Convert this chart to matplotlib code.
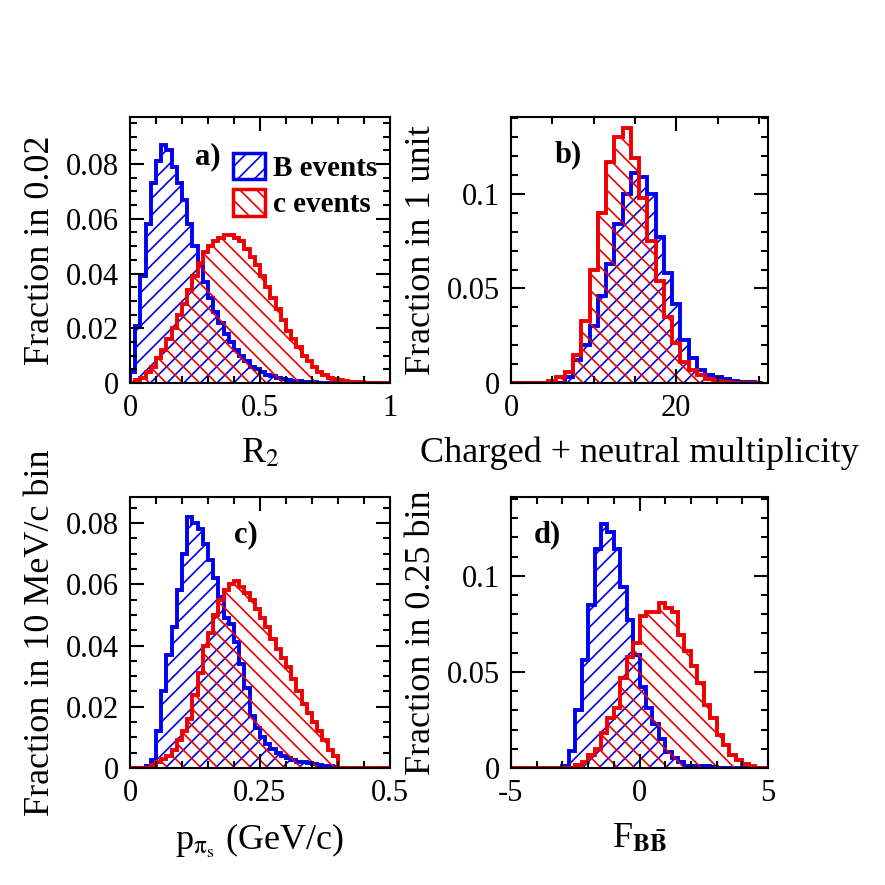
import numpy as np
import matplotlib
matplotlib.use("Agg")
import matplotlib.pyplot as plt
from matplotlib.patches import Patch
from matplotlib.ticker import MultipleLocator, FuncFormatter

plt.rcParams['font.family'] = ['Liberation Serif', 'DejaVu Serif']
plt.rcParams['mathtext.fontset'] = 'stix'
plt.rcParams['hatch.linewidth'] = 1.2

# Panel a: R2, bins of 0.02 from 0 to 1
r2_B = [0.004, 0.021, 0.039, 0.058, 0.073, 0.081, 0.087, 0.085, 0.079, 0.073,
        0.067, 0.058, 0.050, 0.043, 0.037, 0.031, 0.026, 0.022, 0.018, 0.015,
        0.012, 0.010, 0.008, 0.006, 0.005, 0.004, 0.003, 0.0025, 0.002, 0.0015,
        0.001, 0.0008, 0.0006, 0.0005, 0.0004, 0.0003] + [0.0] * 14
r2_c = [0.0, 0.001, 0.002, 0.004, 0.006, 0.009, 0.012, 0.016, 0.020, 0.025,
        0.029, 0.034, 0.039, 0.044, 0.048, 0.050, 0.052, 0.053, 0.054, 0.054,
        0.053, 0.052, 0.049, 0.046, 0.043, 0.039, 0.035, 0.031, 0.027, 0.023,
        0.019, 0.016, 0.013, 0.010, 0.008, 0.006, 0.004, 0.003, 0.002, 0.0015,
        0.001, 0.0007, 0.0005, 0.0003, 0.0002, 0.0, 0.0, 0.0, 0.0, 0.0]

# Panel b: multiplicity, unit bins centred on integers 0..30
mult_B = [0, 0, 0, 0, 0, 0, 0, 0.003, 0.012, 0.020, 0.030, 0.046, 0.063, 0.084,
          0.100, 0.111, 0.109, 0.100, 0.077, 0.058, 0.042, 0.023, 0.013, 0.007,
          0.004, 0.003, 0.002, 0.001, 0.0005, 0.0003, 0.0]
mult_c = [0, 0, 0, 0, 0, 0.001, 0.003, 0.006, 0.015, 0.033, 0.060, 0.090, 0.117,
          0.130, 0.135, 0.119, 0.098, 0.075, 0.054, 0.035, 0.021, 0.011, 0.007,
          0.004, 0.002, 0.001, 0.0005, 0, 0, 0, 0]

# Panel c: p_pi_s, bins of 0.01 from 0 to 0.5
p_B = [0, 0, 0, 0.0005, 0.0025, 0.012, 0.025, 0.037, 0.046, 0.058, 0.070, 0.082,
       0.080, 0.078, 0.073, 0.068, 0.062, 0.056, 0.049, 0.047, 0.041, 0.034,
       0.026, 0.017, 0.013, 0.010, 0.0078, 0.0062, 0.005, 0.004, 0.0032, 0.0026,
       0.002, 0.0018, 0.0015, 0.0012, 0.001, 0.0008, 0.0005, 0.0003] + [0.0] * 10
p_c = [0, 0, 0, 0, 0.001, 0.002, 0.003, 0.004, 0.006, 0.009, 0.012, 0.016, 0.024,
       0.031, 0.040, 0.044, 0.050, 0.055, 0.058, 0.060, 0.061, 0.059, 0.057,
       0.055, 0.052, 0.049, 0.046, 0.042, 0.039, 0.036, 0.033, 0.029, 0.025,
       0.021, 0.018, 0.015, 0.012, 0.009, 0.006, 0.004] + [0.0] * 10

# Panel d: Fisher, bins of 0.25 from -5 to 5
f_B = [0] * 8 + [0.001, 0.009, 0.030, 0.056, 0.085, 0.114, 0.127, 0.123, 0.114,
                 0.094, 0.077, 0.059, 0.042, 0.031, 0.023, 0.015, 0.0085, 0.005,
                 0.003, 0.001, 0.001, 0.001, 0.0008, 0.0005] + [0] * 8
f_c = [0] * 10 + [0.0015, 0.003, 0.007, 0.010, 0.018, 0.026, 0.031, 0.047, 0.058,
                  0.065, 0.079, 0.081, 0.081, 0.086, 0.083, 0.081, 0.069, 0.061,
                  0.053, 0.044, 0.033, 0.026, 0.017, 0.012, 0.007, 0.004, 0.002,
                  0.001, 0, 0]

panels = [
    dict(B=r2_B, c=r2_c, edges=np.linspace(0, 1, 51), xlim=(0, 1), ylim=(0, 0.0972),
         xmaj=0.5, xmin=0.1, ymaj=0.02, ymin=0.005, xl=r'R$_2$', yl='Fraction in 0.02',
         lab='a)', labpos=(0.25, 0.85),
         pos=[130/885, 1-383/885, 260/885, 266/885]),
    dict(B=mult_B, c=mult_c, edges=np.arange(-0.5, 31, 1.0), xlim=(0, 31.1), ylim=(0, 0.1407),
         xmaj=20, xmin=5, ymaj=0.05, ymin=0.01, xl='Charged + neutral multiplicity',
         yl='Fraction in 1 unit', lab='b)', labpos=(0.17, 0.86),
         pos=[511/885, 1-383/885, 257/885, 266/885]),
    dict(B=p_B, c=p_c, edges=np.linspace(0, 0.5, 51), xlim=(0, 0.5), ylim=(0, 0.0885),
         xmaj=0.25, xmin=0.05, ymaj=0.02, ymin=0.005, xl=r'p$_{\mathrm{\pi_s}}$ (GeV/c)',
         yl='Fraction in 10 MeV/c bin', lab='c)', labpos=(0.40, 0.86),
         pos=[130/885, 1-768/885, 260/885, 271/885]),
    dict(B=f_B, c=f_c, edges=np.linspace(-5, 5, 41), xlim=(-5, 5), ylim=(0, 0.141),
         xmaj=5, xmin=1, ymaj=0.05, ymin=0.01, xl=r'F$_{\mathbf{B\bar{B}}}$',
         yl='Fraction in 0.25 bin', lab='d)', labpos=(0.09, 0.86),
         pos=[511/885, 1-768/885, 257/885, 271/885]),
]

fmt = FuncFormatter(lambda v, _: '0' if abs(v) < 1e-12 else ('%g' % round(v, 3)))

fig = plt.figure(figsize=(8.85, 8.85), dpi=100)
for i, p in enumerate(panels):
    ax = fig.add_axes(p['pos'])
    ax.stairs(p['B'], p['edges'], fill=True, facecolor='none', edgecolor='#0000ee',
              hatch='//', linewidth=2.8)
    ax.stairs(p['c'], p['edges'], fill=True, facecolor='none', edgecolor='#ee0000',
              hatch='\\\\', linewidth=2.8)
    ax.set_xlim(*p['xlim'])
    ax.set_ylim(*p['ylim'])
    ax.xaxis.set_major_locator(MultipleLocator(p['xmaj']))
    ax.xaxis.set_minor_locator(MultipleLocator(p['xmin']))
    ax.yaxis.set_major_locator(MultipleLocator(p['ymaj']))
    ax.yaxis.set_minor_locator(MultipleLocator(p['ymin']))
    ax.xaxis.set_major_formatter(fmt)
    ax.yaxis.set_major_formatter(fmt)
    ax.tick_params(which='both', direction='in', top=True, right=True, labelsize=22,
                   width=1.5, pad=8)
    ax.tick_params(which='major', length=10)
    ax.tick_params(which='minor', length=5)
    for s in ax.spines.values():
        s.set_linewidth(1.5)
    ax.set_xlabel(p['xl'], fontsize=26, labelpad=10)
    ax.set_ylabel(p['yl'], fontsize=26, labelpad=6)
    ax.text(*p['labpos'], p['lab'], transform=ax.transAxes, fontsize=22,
            fontweight='bold', ha='left', va='center')
    if i == 0:
        handles = [Patch(facecolor='none', edgecolor='#0000ee', hatch='//', lw=2.5, label='B events'),
                   Patch(facecolor='none', edgecolor='#ee0000', hatch='\\\\', lw=2.5, label='c events')]
        ax.legend(handles=handles, loc='upper right', bbox_to_anchor=(1.02, 0.93),
                  frameon=False, prop=dict(size=21, weight='bold'),
                  handlelength=1.1, handleheight=1.0, handletextpad=0.3,
                  labelspacing=0.25, borderaxespad=0.2)

fig.savefig('out.png', dpi=100)
